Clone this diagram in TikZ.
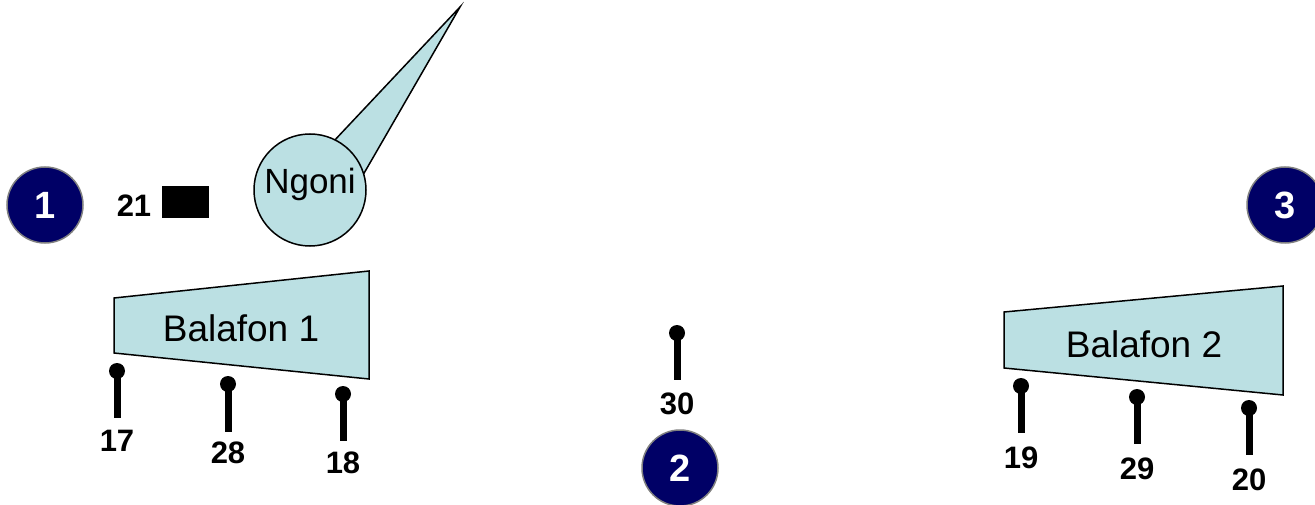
\documentclass[tikz,border=0pt]{standalone}
\usepackage{fontspec}
\setmainfont{Liberation Sans}
\begin{document}
\begin{tikzpicture}[x=1pt,y=-1pt,
  numdisc/.style={circle,fill={rgb,255:red,0;green,0;blue,102},draw={rgb,255:red,128;green,128;blue,128},line width=1.5pt,minimum size=76pt,inner sep=0pt,text=white,font=\fontsize{38}{38}\selectfont\bfseries},
  lbl/.style={font=\fontsize{31}{31}\selectfont\bfseries,inner sep=0pt},
  instr/.style={fill={rgb,255:red,187;green,224;blue,227},draw=black,line width=1.5pt,line join=miter},
  ball/.style={circle,fill=black,minimum size=16pt,inner sep=0pt},
  stick/.style={line width=7pt}]
\useasboundingbox (0,0) rectangle (1315,505);
% numbered discs
\node[numdisc] (d1) at (45,205) {1};
\node[numdisc] (d2) at (680,468) {2};
\node[numdisc] (d3) at (1285,205) {3};
% 21
\node[lbl] (l21) at (134,206) {21};
\node[fill=black,minimum width=47pt,minimum height=32pt,inner sep=0pt] (r21) at (185.5,202) {};
% Ngoni
\draw[instr] (333,142) -- (460,7) -- (363,175) -- cycle;
\node[instr,circle,minimum size=112pt,inner sep=0pt] (ngoni) at (310,190) {};
\node[font=\fontsize{35}{35}\selectfont,inner sep=0pt] (ngonit) at (310,184) {Ngoni};
% Balafon 1
\draw[instr] (114,298) -- (369,271) -- (369,379) -- (114,353) -- cycle;
\node[font=\fontsize{37}{37}\selectfont,inner sep=0pt] (bal1) at (241,328) {Balafon 1};
% Balafon 2
\draw[instr] (1004,312) -- (1283,286) -- (1283,395) -- (1004,368) -- cycle;
\node[font=\fontsize{37}{37}\selectfont,inner sep=0pt] (bal2) at (1144,344) {Balafon 2};
% microphones
\foreach \n/\x/\y/\e/\ly in {17/117/371/418/441, 28/228/384/432/453, 18/343/394/441/463, 30/677/333/380/404, 19/1021/386/433/458, 29/1137/397/444/469, 20/1249/408/455/480}{
  \coordinate (e\n) at (\x,\e);
  \draw[stick] (\x,\y) -- (e\n);
  \node[ball] (b\n) at (\x,\y) {};
  \node[lbl] (t\n) at (\x,\ly) {\n};
}
\end{tikzpicture}
\end{document}
